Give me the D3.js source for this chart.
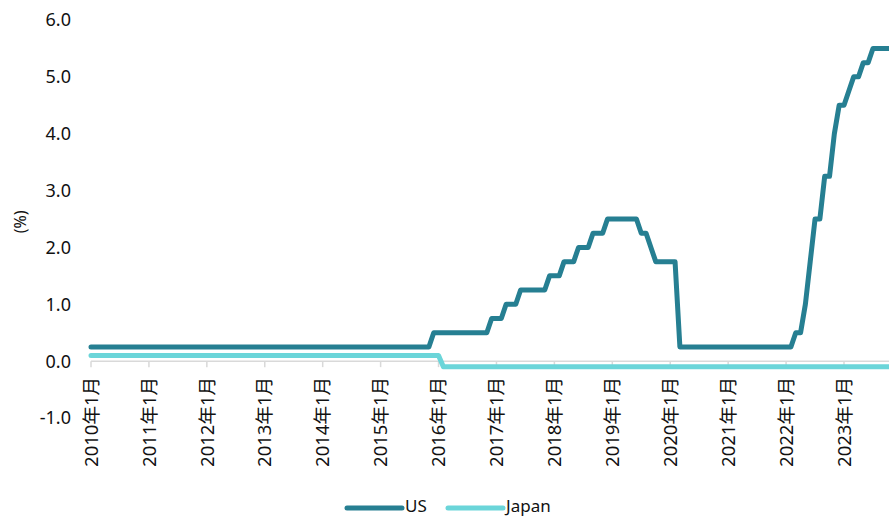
<!DOCTYPE html>
<html>
<head>
<meta charset="utf-8">
<script src="https://cdn.jsdelivr.net/npm/d3@7"></script>
<style>
  html, body { margin: 0; padding: 0; background: #fff; }
  svg { display: block; font-family: "Noto Sans", "Noto Sans CJK JP", sans-serif; }
</style>
</head>
<body>
<svg id="chart" width="889" height="517"></svg>
<script>
// Policy rates, month-end values (%), one array per year, Jan..Dec
const years = [2010, 2011, 2012, 2013, 2014, 2015, 2016, 2017, 2018, 2019, 2020, 2021, 2022, 2023];

const usRate = [
  [0.25,0.25,0.25,0.25,0.25,0.25,0.25,0.25,0.25,0.25,0.25,0.25],
  [0.25,0.25,0.25,0.25,0.25,0.25,0.25,0.25,0.25,0.25,0.25,0.25],
  [0.25,0.25,0.25,0.25,0.25,0.25,0.25,0.25,0.25,0.25,0.25,0.25],
  [0.25,0.25,0.25,0.25,0.25,0.25,0.25,0.25,0.25,0.25,0.25,0.25],
  [0.25,0.25,0.25,0.25,0.25,0.25,0.25,0.25,0.25,0.25,0.25,0.25],
  [0.25,0.25,0.25,0.25,0.25,0.25,0.25,0.25,0.25,0.25,0.25,0.50],
  [0.50,0.50,0.50,0.50,0.50,0.50,0.50,0.50,0.50,0.50,0.50,0.75],
  [0.75,0.75,1.00,1.00,1.00,1.25,1.25,1.25,1.25,1.25,1.25,1.50],
  [1.50,1.50,1.75,1.75,1.75,2.00,2.00,2.00,2.25,2.25,2.25,2.50],
  [2.50,2.50,2.50,2.50,2.50,2.50,2.25,2.25,2.00,1.75,1.75,1.75],
  [1.75,1.75,0.25,0.25,0.25,0.25,0.25,0.25,0.25,0.25,0.25,0.25],
  [0.25,0.25,0.25,0.25,0.25,0.25,0.25,0.25,0.25,0.25,0.25,0.25],
  [0.25,0.25,0.50,0.50,1.00,1.75,2.50,2.50,3.25,3.25,4.00,4.50],
  [4.50,4.75,5.00,5.00,5.25,5.25,5.50,5.50,5.50,5.50,5.50,5.50]
];

const japanRate = [
  [0.10,0.10,0.10,0.10,0.10,0.10,0.10,0.10,0.10,0.10,0.10,0.10],
  [0.10,0.10,0.10,0.10,0.10,0.10,0.10,0.10,0.10,0.10,0.10,0.10],
  [0.10,0.10,0.10,0.10,0.10,0.10,0.10,0.10,0.10,0.10,0.10,0.10],
  [0.10,0.10,0.10,0.10,0.10,0.10,0.10,0.10,0.10,0.10,0.10,0.10],
  [0.10,0.10,0.10,0.10,0.10,0.10,0.10,0.10,0.10,0.10,0.10,0.10],
  [0.10,0.10,0.10,0.10,0.10,0.10,0.10,0.10,0.10,0.10,0.10,0.10],
  [0.10,-0.10,-0.10,-0.10,-0.10,-0.10,-0.10,-0.10,-0.10,-0.10,-0.10,-0.10],
  [-0.10,-0.10,-0.10,-0.10,-0.10,-0.10,-0.10,-0.10,-0.10,-0.10,-0.10,-0.10],
  [-0.10,-0.10,-0.10,-0.10,-0.10,-0.10,-0.10,-0.10,-0.10,-0.10,-0.10,-0.10],
  [-0.10,-0.10,-0.10,-0.10,-0.10,-0.10,-0.10,-0.10,-0.10,-0.10,-0.10,-0.10],
  [-0.10,-0.10,-0.10,-0.10,-0.10,-0.10,-0.10,-0.10,-0.10,-0.10,-0.10,-0.10],
  [-0.10,-0.10,-0.10,-0.10,-0.10,-0.10,-0.10,-0.10,-0.10,-0.10,-0.10,-0.10],
  [-0.10,-0.10,-0.10,-0.10,-0.10,-0.10,-0.10,-0.10,-0.10,-0.10,-0.10,-0.10],
  [-0.10,-0.10,-0.10,-0.10,-0.10,-0.10,-0.10,-0.10,-0.10,-0.10,-0.10,-0.10]
];

const yTicks = [-1, 0, 1, 2, 3, 4, 5, 6];
const yTickLabels = ["-1.0", "0.0", "1.0", "2.0", "3.0", "4.0", "5.0", "6.0"];
const xTickLabels = years.map(y => y + "年1月");
const seriesNames = ["US", "Japan"];
const seriesColors = ["#267f92", "#6bd5d9"];

const svg = d3.select("#chart");

// flatten yearly arrays into monthly points (index = months since Jan 2010)
const toPoints = arr => arr.flatMap((row, yi) => row.map((v, m) => ({ i: yi * 12 + m, v })));
const series = [toPoints(usRate), toPoints(japanRate)];

const x = d3.scaleLinear().domain([0, 156]).range([91, 844]);
const y = d3.scaleLinear().domain([-1, 6]).range([418, 20]);

// y tick labels
svg.append("g")
  .selectAll("text")
  .data(yTicks)
  .join("text")
  .attr("x", 71)
  .attr("y", d => y(d))
  .attr("dy", "0.36em")
  .attr("text-anchor", "end")
  .attr("font-size", 18)
  .attr("fill", "#111")
  .text((d, i) => yTickLabels[i]);

// y axis title
svg.append("text")
  .attr("transform", `translate(20,${y(2.45)}) rotate(-90)`)
  .attr("text-anchor", "middle")
  .attr("dy", "0.36em")
  .attr("font-size", 16)
  .attr("fill", "#111")
  .text("(%)");

// category axis along zero
const axisG = svg.append("g");
axisG.append("line")
  .attr("x1", x(0)).attr("x2", 889)
  .attr("y1", y(0)).attr("y2", y(0))
  .attr("stroke", "#d9d9d9").attr("stroke-width", 1.5);
axisG.selectAll("line.tick")
  .data(years)
  .join("line")
  .attr("class", "tick")
  .attr("x1", (d, i) => x(i * 12)).attr("x2", (d, i) => x(i * 12))
  .attr("y1", y(0)).attr("y2", y(0) + 6)
  .attr("stroke", "#d9d9d9").attr("stroke-width", 1.5);
axisG.selectAll("text")
  .data(xTickLabels)
  .join("text")
  .attr("transform", (d, i) => `translate(${x(i * 12)},377) rotate(-90)`)
  .attr("text-anchor", "end")
  .attr("dy", "0.36em")
  .attr("font-size", 18.5)
  .attr("fill", "#111")
  .text(d => d);

// series lines
const line = d3.line().x(d => x(d.i)).y(d => y(d.v));
svg.append("g")
  .selectAll("path")
  .data([1, 0])
  .join("path")
  .attr("d", k => line(series[k]))
  .attr("fill", "none")
  .attr("stroke", k => seriesColors[k])
  .attr("stroke-width", 5)
  .attr("stroke-linejoin", "round")
  .attr("stroke-linecap", "round");

// legend
const legend = svg.append("g");
const legendX = [347, 448];
seriesNames.forEach((name, k) => {
  legend.append("line")
    .attr("x1", legendX[k]).attr("x2", legendX[k] + 55)
    .attr("y1", 508).attr("y2", 508)
    .attr("stroke", seriesColors[k]).attr("stroke-width", 5)
    .attr("stroke-linecap", "round");
  legend.append("text")
    .attr("x", legendX[k] + 58)
    .attr("y", 507)
    .attr("dy", "0.32em")
    .attr("font-size", 17)
    .attr("fill", "#111")
    .text(name);
});
</script>
</body>
</html>
